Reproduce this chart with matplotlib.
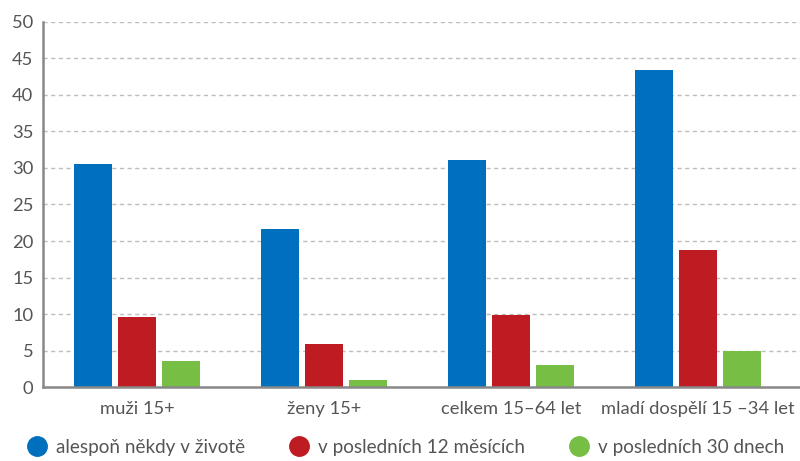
import matplotlib.pyplot as plt
import numpy as np
from matplotlib.lines import Line2D

plt.rcParams['font.family'] = ['Lato', 'DejaVu Sans']

categories = ['muži 15+', 'ženy 15+', 'celkem 15–64 let', 'mladí dospělí 15 –34 let']
series_names = ['alespoň někdy v životě', 'v posledních 12 měsících', 'v posledních 30 dnech']
lifetime = [30.5, 21.6, 31.1, 43.4]
last_12m = [9.6, 5.9, 9.8, 18.7]
last_30d = [3.5, 1.0, 3.0, 4.9]
colors = ['#0070BE', '#BE1B22', '#77BE44']
yticks = [0, 5, 10, 15, 20, 25, 30, 35, 40, 45, 50]

fig = plt.figure(figsize=(8, 4.61), dpi=100)
ax = fig.add_axes([0.054, 0.1605, 0.946, 0.7918])

x = np.arange(len(categories))
step = 0.235
width = 0.203
for i, vals in enumerate([lifetime, last_12m, last_30d]):
    ax.bar(x + (i - 1) * step, vals, width, color=colors[i], zorder=3)

ax.set_xlim(-0.503, 3.545)
ax.set_ylim(0, 50)
ax.set_yticks(yticks)
ax.set_xticks(x)
ax.set_xticklabels(categories)
ax.tick_params(axis='both', length=0, labelsize=13.2, labelcolor='#555555')
ax.tick_params(axis='x', pad=10)
ax.tick_params(axis='y', pad=7)

ax.yaxis.grid(True, color='#bdbdbd', linestyle=(0, (3, 2.5)), linewidth=1, zorder=0)
for s in ['top', 'right']:
    ax.spines[s].set_visible(False)
for s in ['left', 'bottom']:
    ax.spines[s].set_color('#888888')
    ax.spines[s].set_linewidth(1.8)
    ax.spines[s].set_zorder(4)

handles = [Line2D([], [], linestyle='none', marker='o', markersize=14,
                  markerfacecolor=c, markeredgecolor=c) for c in colors]
fig.legend(handles, series_names, loc='center left', bbox_to_anchor=(0.035, 0.03),
           ncol=3, frameon=False, fontsize=13.6, labelcolor='#555555',
           borderpad=0, borderaxespad=0,
           handletextpad=0.5, columnspacing=2.35, handlelength=1.0)

fig.savefig('out.png', dpi=100)
